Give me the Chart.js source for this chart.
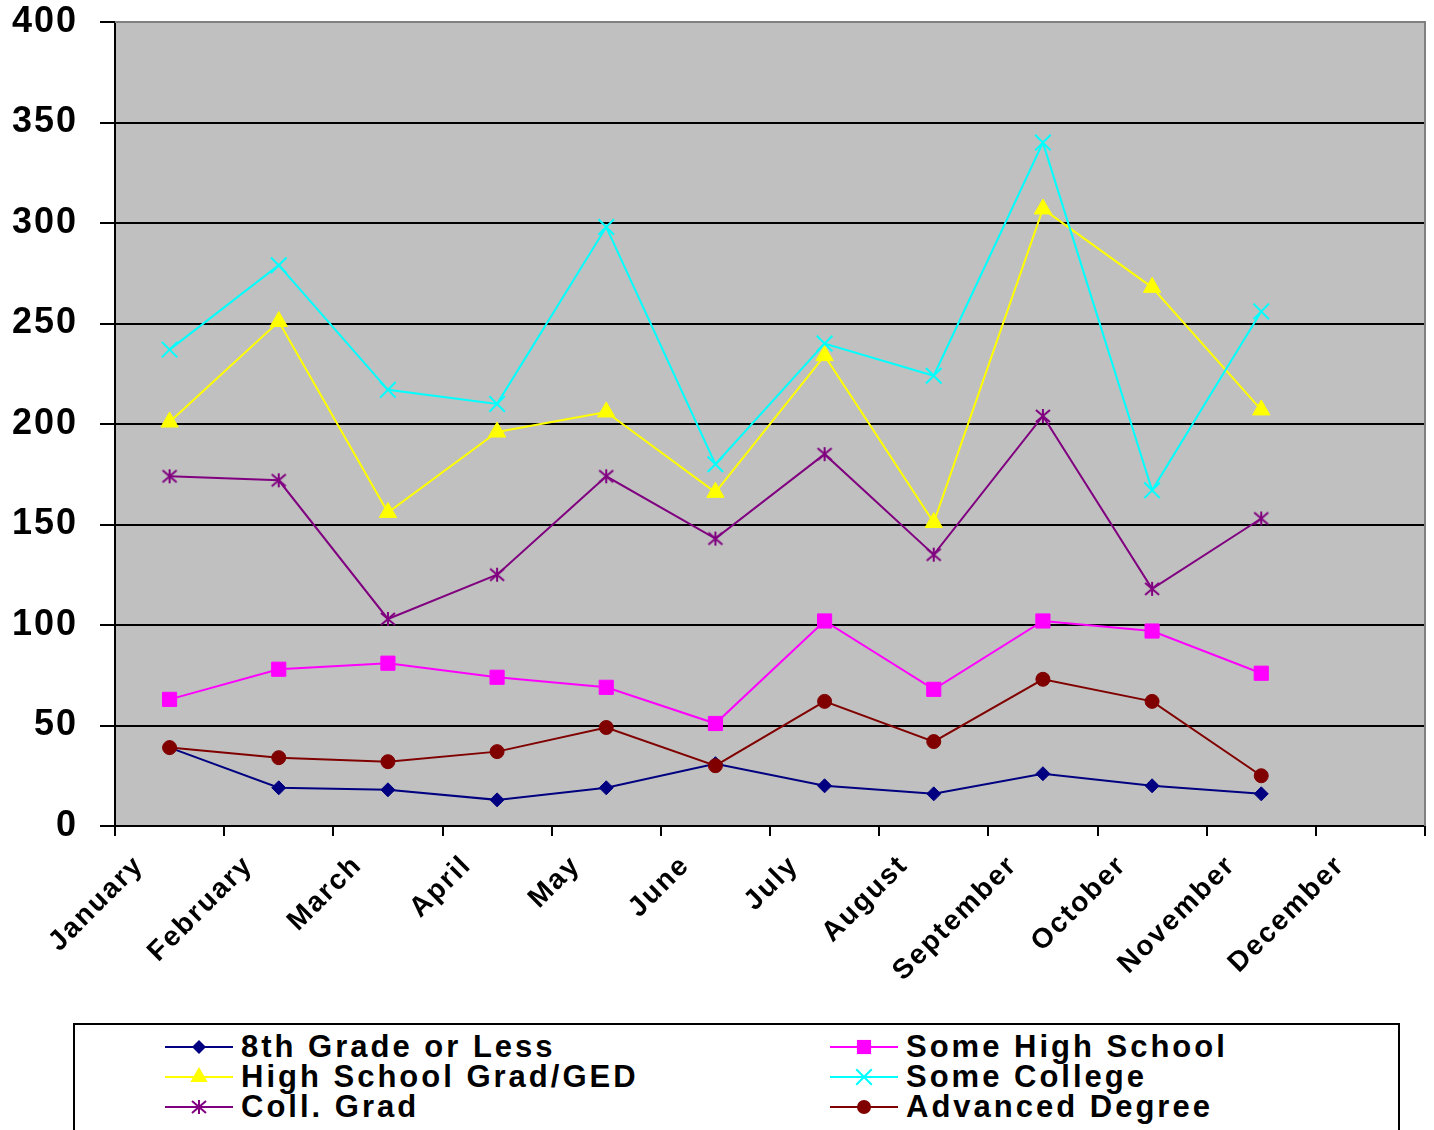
<!DOCTYPE html>
<html>
<head>
<meta charset="utf-8">
<script src="https://cdn.jsdelivr.net/npm/chart.js@4/dist/chart.umd.min.js"></script>
<style>
	body { margin: 0; background: #fff; }
	#wrap { position: relative; width: 1434px; height: 1130px; overflow: hidden; }
	#chart { position: absolute; left: 0; top: 0; }
	#legend { position: absolute; left: 73px; top: 1023px; width: 1327px; height: 130px; border: 2px solid #000; box-sizing: border-box; }
	.item { position: absolute; height: 30px; display: flex; align-items: center; white-space: nowrap;
		font: bold 31px "Liberation Sans", Arial, sans-serif; letter-spacing: 3px; color: #000; }
	.item canvas { margin-right: 8px; }
</style>
</head>
<body>
<div id="wrap">
	<canvas id="chart" width="1434" height="1010"></canvas>
	<div id="legend"></div>
</div>
<script>
// Categories (the last month has no reading)
var months = ['January', 'February', 'March', 'April', 'May', 'June', 'July', 'August', 'September', 'October', 'November', 'December'];

// Series values
var grade8OrLess   = [39, 19, 18, 13, 19, 31, 20, 16, 26, 20, 16];
var someHighSchool = [63, 78, 81, 74, 69, 51, 102, 68, 102, 97, 76];
var hsGradGed      = [201, 251, 156, 196, 206, 166, 234, 151, 307, 268, 207];
var someCollege    = [237, 279, 217, 210, 298, 180, 240, 224, 340, 167, 256];
var collGrad       = [174, 172, 103, 125, 174, 143, 185, 135, 204, 118, 153];
var advancedDegree = [39, 34, 32, 37, 49, 30, 62, 42, 73, 62, 25];

var seriesNames = ['8th Grade or Less', 'Some High School', 'High School Grad/GED', 'Some College', 'Coll. Grad', 'Advanced Degree'];

// Y axis ticks
var yMin = 0, yMax = 400, yStep = 50;

var FONT = '"Liberation Sans", Arial, sans-serif';

// Excel style asterisk marker (vertical bar + x)
function makeStar(color) {
	var c = document.createElement('canvas');
	c.width = 18; c.height = 18;
	var g = c.getContext('2d');
	g.strokeStyle = color;
	g.lineWidth = 2;
	g.beginPath();
	g.moveTo(9, 2);  g.lineTo(9, 16);
	g.moveTo(2, 3);  g.lineTo(16, 15);
	g.moveTo(16, 3); g.lineTo(2, 15);
	g.stroke();
	return c;
}

var styles = [
	{ color: '#000080', point: 'rectRot',   radius: 7 },
	{ color: '#FF00FF', point: 'rect',      radius: 10 },
	{ color: '#FFFF00', point: 'triangle',  radius: 10 },
	{ color: '#00FFFF', point: 'crossRot',  radius: 11 },
	{ color: '#800080', point: makeStar('#800080'), radius: 9 },
	{ color: '#800000', point: 'circle',    radius: 7 }
];
var values = [grade8OrLess, someHighSchool, hsGradGed, someCollege, collGrad, advancedDegree];

var datasets = values.map(function (arr, i) {
	var s = styles[i];
	return {
		label: seriesNames[i],
		data: arr,
		borderColor: s.color,
		backgroundColor: s.color,
		borderWidth: 2,
		fill: false,
		tension: 0,
		pointStyle: s.point,
		pointRadius: s.radius,
		pointHoverRadius: s.radius,
		pointBorderWidth: s.point === 'crossRot' ? 2 : 1,
		pointBackgroundColor: s.color,
		pointBorderColor: s.color,
		order: values.length - 1 - i   // later series on top, like the original
	};
});

// Gray plot area + frame
var plotArea = {
	id: 'plotArea',
	beforeDraw: function (chart) {
		var a = chart.chartArea, ctx = chart.ctx;
		ctx.letterSpacing = '2px';
		ctx.save();
		ctx.fillStyle = '#C0C0C0';
		ctx.fillRect(a.left, a.top, a.right - a.left, a.bottom - a.top);
		ctx.restore();
	},
	beforeDatasetsDraw: function (chart) {
		var a = chart.chartArea, ctx = chart.ctx;
		ctx.save();
		ctx.strokeStyle = '#808080';
		ctx.lineWidth = 2;
		ctx.beginPath();
		ctx.moveTo(a.left, a.top);
		ctx.lineTo(a.right, a.top);
		ctx.lineTo(a.right, a.bottom);
		ctx.stroke();
		ctx.restore();
	}
};

new Chart(document.getElementById('chart'), {
	type: 'line',
	data: { labels: months, datasets: datasets },
	plugins: [plotArea],
	options: {
		responsive: false,
		animation: false,
		layout: { autoPadding: false, padding: { top: 22, right: 9, left: 0, bottom: 0 } },
		plugins: { legend: { display: false }, tooltip: { enabled: false } },
		scales: {
			x: {
				offset: true,
				grid: { offset: true, drawOnChartArea: false, color: '#000', lineWidth: 2, tickLength: 10 },
				border: { color: '#000', width: 2 },
				ticks: {
					autoSkip: false, maxRotation: 45, minRotation: 45,
					labelOffset: -30, padding: 13, color: '#000',
					font: { family: FONT, size: 28, weight: 'bold' }
				},
				afterFit: function (scale) {
					scale.height = 184;
					scale.paddingLeft = 0;
					scale.paddingRight = 0;
				}
			},
			y: {
				min: yMin, max: yMax,
				ticks: { stepSize: yStep, padding: 22, color: '#000', font: { family: FONT, size: 36, weight: 'bold' } },
				grid: { color: '#000', lineWidth: 2, tickLength: 15 },
				border: { color: '#000', width: 2 },
				afterFit: function (scale) {
					scale.width = 115;
					scale.paddingTop = 0;
					scale.paddingBottom = 0;
				}
			}
		}
	}
});

// ----- Legend (two columns, three rows) -----
function drawMarker(g, s, x, y) {
	var r = s.radius;
	g.fillStyle = s.color;
	g.strokeStyle = s.color;
	g.beginPath();
	if (typeof s.point !== 'string') {
		g.drawImage(s.point, x - s.point.width / 2, y - s.point.height / 2);
		return;
	}
	switch (s.point) {
		case 'rectRot':
			g.moveTo(x, y - r); g.lineTo(x + r, y); g.lineTo(x, y + r); g.lineTo(x - r, y);
			g.closePath(); g.fill();
			break;
		case 'rect':
			var h = r * Math.SQRT1_2;
			g.fillRect(x - h, y - h, 2 * h, 2 * h);
			break;
		case 'triangle':
			g.moveTo(x, y - r);
			g.lineTo(x + r * Math.sin(2 * Math.PI / 3), y + r / 2);
			g.lineTo(x - r * Math.sin(2 * Math.PI / 3), y + r / 2);
			g.closePath(); g.fill();
			break;
		case 'crossRot':
			var d = r * Math.SQRT1_2;
			g.lineWidth = 2;
			g.moveTo(x - d, y - d); g.lineTo(x + d, y + d);
			g.moveTo(x + d, y - d); g.lineTo(x - d, y + d);
			g.stroke();
			break;
		default:
			g.arc(x, y, r, 0, Math.PI * 2); g.fill();
	}
}

var legend = document.getElementById('legend');
var colLeft = [90, 755];
var rowTop = [7, 37, 67];
seriesNames.forEach(function (name, i) {
	var item = document.createElement('div');
	item.className = 'item';
	item.style.left = colLeft[i % 2] + 'px';
	item.style.top = rowTop[Math.floor(i / 2)] + 'px';
	var c = document.createElement('canvas');
	c.width = 68; c.height = 30;
	var g = c.getContext('2d');
	g.strokeStyle = styles[i].color;
	g.lineWidth = 2;
	g.beginPath(); g.moveTo(0, 15); g.lineTo(68, 15); g.stroke();
	drawMarker(g, styles[i], 34, 15);
	item.appendChild(c);
	var t = document.createElement('span');
	t.textContent = name;
	item.appendChild(t);
	legend.appendChild(item);
});
</script>
</body>
</html>
